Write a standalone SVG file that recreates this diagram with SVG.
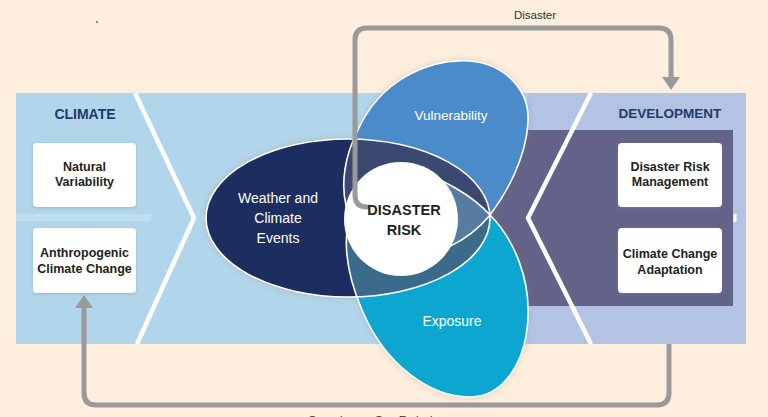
<svg xmlns="http://www.w3.org/2000/svg" width="768" height="417" viewBox="0 0 768 417">
<style>
text{font-family:"Liberation Sans",Arial,sans-serif}
.hd{font-size:14px;font-weight:bold;fill:#1f3a6b;text-anchor:middle}
.bx{fill:#ffffff;filter:url(#bsh)}
.bt{font-size:12.5px;font-weight:bold;fill:#231f20;text-anchor:middle}
.pt{font-size:14px;fill:#ffffff;text-anchor:middle}
.ol{fill:none;stroke:#ffffff;stroke-width:1.6}
.cn{fill:none;stroke:#9a9a9a;stroke-width:5}
.chev{fill:none;stroke:#ffffff;stroke-width:4.5;stroke-linejoin:round}
.lbl{font-size:11.5px;fill:#333333}
</style>
<defs>
<filter id="bsh" x="-20%" y="-20%" width="140%" height="140%">
<feDropShadow dx="0" dy="1" stdDeviation="1.5" flood-color="#6f8fa8" flood-opacity="0.45"/>
</filter>
<filter id="psh" x="-20%" y="-20%" width="140%" height="140%">
<feDropShadow dx="0" dy="0" stdDeviation="3" flood-color="#9a6a5a" flood-opacity="0.35"/>
</filter>
<marker id="ah" viewBox="0 0 13 18" refX="1" refY="9" markerWidth="13" markerHeight="18" markerUnits="userSpaceOnUse" orient="auto">
<path d="M0,0 L13,9 L0,18 Z" fill="#9a9a9a"/>
</marker>
<ellipse id="wE" cx="348" cy="218" rx="142" ry="79"/>
<path id="vP" d="M395,258 C340,240 332,180 358,130 C380,80 430,58 470,61 C505,64 530,90 528,122 C526,160 505,195 490,215 C470,240 430,262 395,258 Z"/>
<path id="eP" d="M405,168 C440,175 475,198 490,215 C515,240 530,280 528,318 C526,360 505,397 470,397 C430,397 385,365 362,310 C345,270 343,240 350,215 C356,195 380,165 405,168 Z"/>
<clipPath id="cW"><use href="#wE"/></clipPath>
<clipPath id="cV"><use href="#vP"/></clipPath>
</defs>

<rect x="0" y="0" width="768" height="417" fill="#fdeedd"/>
<circle cx="97" cy="22" r="0.9" fill="#4a5aa0"/>

<g id="bands">
<rect x="16" y="93" width="512" height="251" fill="#b1d5ea"/>
<rect x="527" y="93" width="219" height="251" fill="#b3c3e4"/>
<rect x="480" y="130" width="253" height="176" fill="#636389"/>
<rect x="16" y="214" width="135" height="7" fill="#c2e3f2" opacity="0.7"/>
<rect x="733.5" y="214" width="3" height="8" fill="#ffffff"/>
<polyline class="chev" points="135,93 194,218 137,344"/>
<polyline class="chev" points="591,93 528,218 591,344"/>
</g>

<g id="climate">
<text class="hd" x="85" y="119">CLIMATE</text>
</g>
<g id="natural-variability">
<rect class="bx" x="33" y="143" width="103" height="64" rx="4"/>
<text class="bt" x="84.5" y="171">Natural</text>
<text class="bt" x="84.5" y="186">Variability</text>
</g>
<g id="anthropogenic">
<rect class="bx" x="33" y="228" width="103" height="65" rx="4"/>
<text class="bt" x="84.5" y="257">Anthropogenic</text>
<text class="bt" x="84.5" y="273">Climate Change</text>
</g>

<g id="development">
<text class="hd" x="670" y="118" style="font-size:13.5px">DEVELOPMENT</text>
</g>
<g id="drm">
<rect class="bx" x="618" y="143" width="104" height="64" rx="4"/>
<text class="bt" x="670" y="171">Disaster Risk</text>
<text class="bt" x="670" y="186">Management</text>
</g>
<g id="cca">
<rect class="bx" x="618" y="228" width="104" height="65" rx="4"/>
<text class="bt" x="670" y="258">Climate Change</text>
<text class="bt" x="670" y="274">Adaptation</text>
</g>

<g id="petals">
<g filter="url(#psh)">
<use href="#wE" fill="#1c2f5e"/>
<use href="#vP" fill="#4b8bc9"/>
<use href="#eP" fill="#08a6d1"/>
</g>
<use href="#vP" fill="#3b4872" clip-path="url(#cW)"/>
<use href="#eP" fill="#3b6a8b" clip-path="url(#cW)"/>
<use href="#eP" fill="#4c8fc0" clip-path="url(#cV)"/>
<g clip-path="url(#cW)"><use href="#eP" fill="#587ba1" clip-path="url(#cV)"/></g>
<use href="#wE" class="ol"/>
<use href="#vP" class="ol"/>
<use href="#eP" class="ol"/>
</g>
<g id="weather">
<text class="pt" x="278" y="203">Weather and</text>
<text class="pt" x="278" y="223">Climate</text>
<text class="pt" x="278" y="243">Events</text>
</g>
<g id="vulnerability">
<text class="pt" x="451" y="120" style="font-size:13.5px">Vulnerability</text>
</g>
<g id="exposure">
<text class="pt" x="452" y="326">Exposure</text>
</g>

<g id="disaster-risk">
<circle cx="401" cy="219" r="57" fill="#ffffff"/>
</g>

<g id="connectors">
<path class="cn" d="M369,207 L367,207 Q355,207 355,195 L355,40 Q355,28 367,28 L659,28 Q671,28 671,40 L671,78" marker-end="url(#ah)"/>
<path class="cn" d="M669,344 L669,393 Q669,405 657,405 L96,405 Q84,405 84,393 L84,307" marker-end="url(#ah)"/>
<text class="lbl" x="535" y="19" text-anchor="middle">Disaster</text>
<text class="lbl" x="308" y="424">Greenhouse Gas Emissions</text>
</g>

<g id="disaster-risk-label">
<text x="404" y="215" style="font-size:14.5px;font-weight:bold;fill:#231f20;text-anchor:middle">DISASTER</text>
<text x="404" y="235" style="font-size:14.5px;font-weight:bold;fill:#231f20;text-anchor:middle">RISK</text>
</g>
</svg>
